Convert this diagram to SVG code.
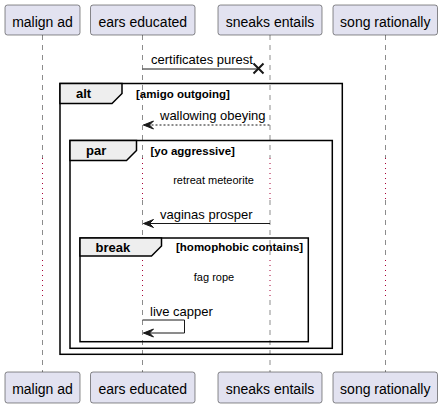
<svg xmlns="http://www.w3.org/2000/svg" width="443" height="408" viewBox="0 0 443 408">
<style>
.pbox{fill:#E2E2F0;stroke:#181818;stroke-width:0.5}
.ptxt{font-family:"Liberation Sans",Arial,sans-serif;font-size:14px;fill:#000;text-anchor:middle}
.life{stroke:#181818;stroke-width:0.5;stroke-dasharray:5,5;fill:none}
.delay{stroke:#A80036;stroke-width:1;stroke-dasharray:1,4;fill:none}
.frame{fill:none;stroke:#000;stroke-width:1.5}
.tab{fill:#EEEEEE;stroke:#000;stroke-width:1.5}
.gname{font-family:"Liberation Sans",Arial,sans-serif;font-size:13px;font-weight:bold;fill:#000}
.gcond{font-family:"Liberation Sans",Arial,sans-serif;font-size:11.5px;font-weight:bold;fill:#000}
.msg{font-family:"Liberation Sans",Arial,sans-serif;font-size:13px;fill:#000}
.dtxt{font-family:"Liberation Sans",Arial,sans-serif;font-size:11px;fill:#000;text-anchor:middle}
.line{stroke:#181818;stroke-width:1;fill:none}
.dash{stroke:#181818;stroke-width:1;stroke-dasharray:2,2;fill:none}
.head{fill:#181818;stroke:#181818;stroke-width:1}
</style>
<g id="lifelines">
<path class="life" d="M42.5,35V158M42.5,200V260M42.5,300V372"/>
<path class="life" d="M142.5,35V158M142.5,200V260M142.5,300V372"/>
<path class="life" d="M270,35V158M270,200V260M270,300V372"/>
<path class="life" d="M385.5,35V158M385.5,200V260M385.5,300V372"/>
<path class="delay" d="M42.5,158V200M142.5,158V200M270,158V200M385.5,158V200"/>
<path class="delay" d="M42.5,260V300M142.5,260V300M270,260V300M385.5,260V300"/>
</g>
<g id="p-malign-ad">
<rect class="pbox" x="5" y="5" width="75" height="30" rx="2.5"/>
<text class="ptxt" x="42.5" y="27">malign ad</text>
<rect class="pbox" x="5" y="372" width="75" height="31" rx="2.5"/>
<text class="ptxt" x="42.5" y="394">malign ad</text>
</g>
<g id="p-ears-educated">
<rect class="pbox" x="90.5" y="5" width="104.5" height="30" rx="2.5"/>
<text class="ptxt" x="142.75" y="27">ears educated</text>
<rect class="pbox" x="90.5" y="372" width="104.5" height="31" rx="2.5"/>
<text class="ptxt" x="142.75" y="394">ears educated</text>
</g>
<g id="p-sneaks-entails">
<rect class="pbox" x="218" y="5" width="104" height="30" rx="2.5"/>
<text class="ptxt" x="270" y="27">sneaks entails</text>
<rect class="pbox" x="218" y="372" width="104" height="31" rx="2.5"/>
<text class="ptxt" x="270" y="394">sneaks entails</text>
</g>
<g id="p-song-rationally">
<rect class="pbox" x="333" y="5" width="104.5" height="30" rx="2.5"/>
<text class="ptxt" x="385.25" y="27">song rationally</text>
<rect class="pbox" x="333" y="372" width="104.5" height="31" rx="2.5"/>
<text class="ptxt" x="385.25" y="394">song rationally</text>
</g>
<g id="g-alt">
<rect class="frame" x="60" y="83.5" width="282.3" height="270.8"/>
<polygon class="tab" points="60,83.5 122,83.5 122,93.5 112,103.5 60,103.5"/>
<text class="gname" x="76" y="98">alt</text>
<text class="gcond" x="136" y="97.5">[amigo outgoing]</text>
</g>
<g id="g-par">
<rect class="frame" x="70" y="140.5" width="262.3" height="207.8"/>
<polygon class="tab" points="70,140.5 136.5,140.5 136.5,150.5 126.5,160.5 70,160.5"/>
<text class="gname" x="86" y="155">par</text>
<text class="gcond" x="150.5" y="154.5">[yo aggressive]</text>
</g>
<g id="g-break">
<rect class="frame" x="80" y="238" width="228.3" height="103.7"/>
<polygon class="tab" points="80,238 161.5,238 161.5,246 151.5,256 80,256"/>
<text class="gname" x="95.5" y="252">break</text>
<text class="gcond" x="176" y="251">[homophobic contains]</text>
</g>
<g id="delays">
<text class="dtxt" x="213.5" y="184">retreat meteorite</text>
<text class="dtxt" x="214" y="281">fag rope</text>
</g>
<g id="connectors">
<g id="m1">
<line class="line" x1="142.5" y1="69" x2="258.5" y2="69"/>
<path d="M253.5,63.5L263.5,73.5M263.5,63.5L253.5,73.5" stroke="#181818" stroke-width="2"/>
<text class="msg" x="151" y="64">certificates purest</text>
</g>
<g id="m2">
<line class="dash" x1="143.5" y1="125" x2="270" y2="125"/>
<polygon class="head" points="153.5,121 143.5,125 153.5,129 149.5,125"/>
<text class="msg" x="160" y="120">wallowing obeying</text>
</g>
<g id="m3">
<line class="line" x1="143.5" y1="223.5" x2="270" y2="223.5"/>
<polygon class="head" points="153.5,219.5 143.5,223.5 153.5,227.5 149.5,223.5"/>
<text class="msg" x="160" y="218.5">vaginas prosper</text>
</g>
<g id="m4">
<path class="line" d="M142.5,320H184.5V333H143.5"/>
<polygon class="head" points="153.5,329 143.5,333 153.5,337 149.5,333"/>
<text class="msg" x="150" y="315.5">live capper</text>
</g>
</g>
</svg>
